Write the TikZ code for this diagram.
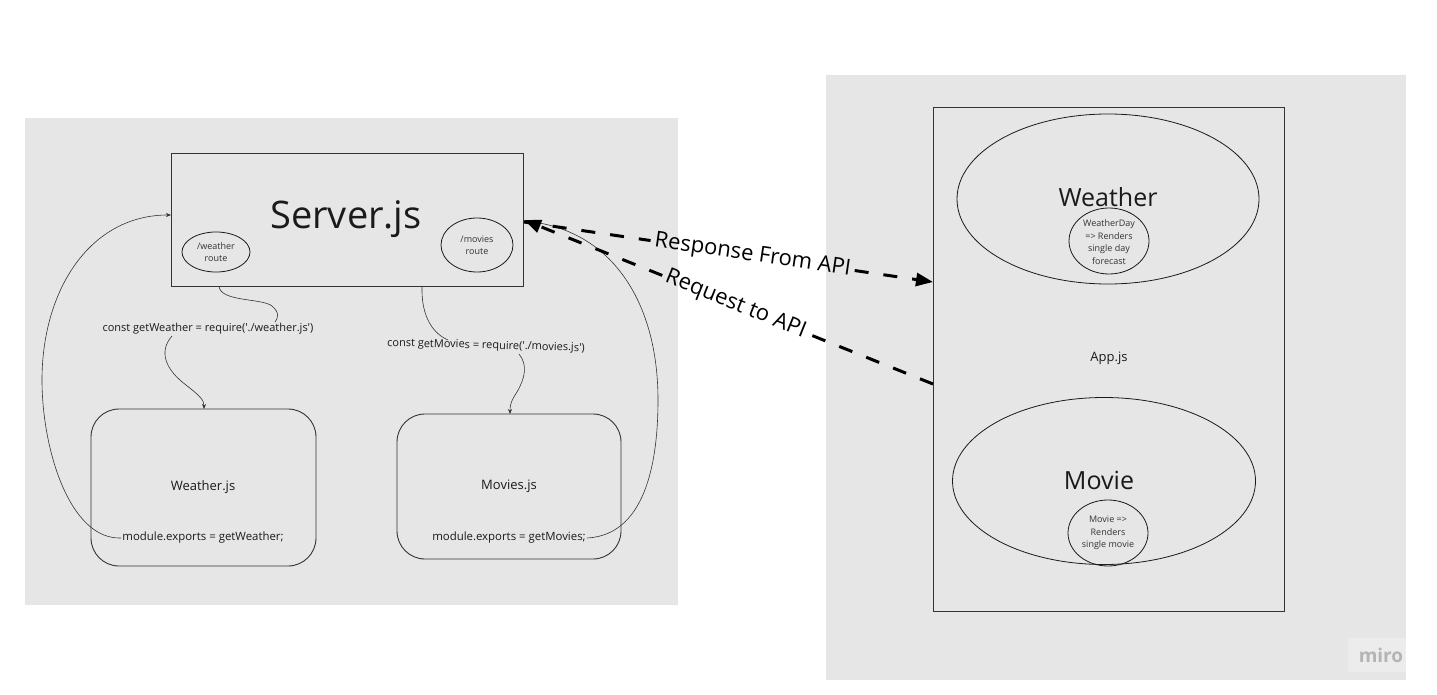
\documentclass[tikz,border=0pt]{standalone}
\usepackage{fontspec}
\setmainfont{Open Sans}
\usetikzlibrary{shapes.geometric,arrows.meta}
\definecolor{panel}{HTML}{E6E6E6}
\definecolor{badge}{HTML}{ECECEC}
\definecolor{ink}{HTML}{1A1A1A}
\definecolor{edge}{HTML}{333333}
\definecolor{mirogray}{HTML}{B4B4B8}
\begin{document}
\begin{tikzpicture}[x=1pt,y=-1pt,
  box/.style={draw=edge,line width=0.9pt,inner sep=0pt},
  rbox/.style={draw=edge,line width=0.9pt,rounded corners=28pt,inner sep=0pt},
  ell/.style={ellipse,draw=ink,line width=0.8pt,inner sep=0pt},
  tiny/.style={text=edge,font=\fontsize{9}{12.5}\selectfont,align=center,inner sep=0pt},
  code/.style={text=ink,font=\fontsize{11}{13}\selectfont,inner sep=1pt},
  conn/.style={draw=edge,line width=0.6pt},
  tip/.style={-{Stealth[length=5pt,width=4pt]}},
  dashline/.style={draw=black,line width=3pt,dash pattern=on 14pt off 15pt},
  lbl/.style={text=black,font=\fontsize{22}{24}\selectfont,inner sep=4pt}]
\useasboundingbox (0,0) rectangle (1437,695);
\fill[white] (0,0) rectangle (1437,695);
\fill[panel] (25,118) rectangle (678,605);
\fill[panel] (826,75) rectangle (1406,680);
\node[fill=badge,minimum width=58pt,minimum height=34pt,inner sep=0pt] (miro) at (1377,655) {};
\node[text=mirogray,font=\fontsize{19}{21}\selectfont\bfseries,inner sep=0pt] (mirotxt) at (1381,655) {miro};

% server
\node[box,minimum width=352pt,minimum height=133pt] (server) at (347,219.5) {};
\node[anchor=base,text=ink,font=\fontsize{38}{40}\selectfont,inner sep=0pt] (servertxt) at (346,229) {Server.js};
\node[ell,minimum width=68pt,minimum height=40pt] (wroute) at (216,252) {};
\node[tiny] (wroutetxt) at (216,252) {/weather\\route};
\node[ell,minimum width=72pt,minimum height=54pt] (mroute) at (477,245) {};
\node[tiny] (mroutetxt) at (477,245) {/movies\\route};

% modules
\node[rbox,minimum width=225pt,minimum height=157pt] (wjs) at (203.5,487.5) {};
\node[text=ink,font=\fontsize{13}{15}\selectfont,inner sep=0pt] (wjstxt) at (203,487) {Weather.js};
\node[code,font=\fontsize{11.4}{13}\selectfont] (wexp) at (203,538) {module.exports = getWeather;};
\node[rbox,minimum width=224pt,minimum height=145pt] (mjs) at (509,486.5) {};
\node[text=ink,font=\fontsize{13}{15}\selectfont,inner sep=0pt] (mjstxt) at (509,486) {Movies.js};
\node[code,font=\fontsize{11.4}{13}\selectfont] (mexp) at (509,538) {module.exports = getMovies;};

\node[code] (wreq) at (208,329) {const getWeather = require(\textquotesingle./weather.js\textquotesingle)};
\node[code,rotate=-1.5] (mreq) at (486,346) {const getMovies = require(\textquotesingle./movies.js\textquotesingle)};

\coordinate (sb1) at (219,286);
\coordinate (wreqtop) at (275,322);
\coordinate (wreqbot) at (172,336);
\coordinate (wjstop) at (204,409);
\coordinate (sb2) at (422,286);
\coordinate (mreqtop) at (448,340);
\coordinate (mreqbot) at (519,354);
\coordinate (mjstop) at (510,414);
\coordinate (sl) at (171,215);
\coordinate (sr) at (524,221);

\draw[conn] (sb1) .. controls (220,302) and (262,298) .. (272,306) .. controls (280,313) and (278,318) .. (wreqtop);
\draw[conn,tip] (wreqbot) .. controls (158,352) and (166,370) .. (186,385) .. controls (200,396) and (204,400) .. (wjstop);
\draw[conn] (sb2) .. controls (421,318) and (434,334) .. (mreqtop);
\draw[conn,tip] (mreqbot) .. controls (528,365) and (525,378) .. (517,392) .. controls (511,401) and (510,405) .. (mjstop);
\draw[conn,tip] (wexp.west) .. controls (70,540) and (42,450) .. (42,380) .. controls (42,290) and (90,215) .. (sl);
\draw[conn] (mexp.east) .. controls (650,535) and (658,450) .. (658,400) .. controls (658,300) and (610,228) .. (sr);

% app
\node[box,minimum width=351pt,minimum height=504pt] (app) at (1108.5,359) {};
\node[text=ink,font=\fontsize{13}{15}\selectfont,inner sep=0pt] (apptxt) at (1109,358) {App.js};
\node[ell,minimum width=302pt,minimum height=170pt] (weather) at (1108,199) {};
\node[text=ink,font=\fontsize{25}{27}\selectfont,inner sep=0pt] (weathertxt) at (1108,197) {Weather};
\node[ell,minimum width=80pt,minimum height=66pt] (wday) at (1109,241) {};
\node[tiny] (wdaytxt) at (1109,242) {WeatherDay\\=> Renders\\single day\\forecast};
\node[ell,minimum width=303pt,minimum height=167pt] (movie) at (1104,481) {};
\node[text=ink,font=\fontsize{25}{27}\selectfont,inner sep=0pt] (movietxt) at (1099,480) {Movie};
\node[ell,minimum width=80pt,minimum height=66pt] (msingle) at (1108,533) {};
\node[tiny] (msingletxt) at (1108,533) {Movie =>\\Renders\\single movie};

% API arrows
\coordinate (srv1) at (524,222);
\coordinate (appa) at (933,282);
\coordinate (srv2) at (524,220);
\coordinate (appb) at (933,384);
\path (srv1) -- (appa) node[pos=0.559,sloped,lbl] (resp) {Response From API};
\draw[dashline] (srv1) -- (resp);
\draw[dashline,-{Triangle[length=17pt,width=13pt]}] (resp) -- (appa);
\path (srv2) -- (appb) node[pos=0.517,sloped,lbl] (req) {Request to API};
\draw[dashline] (appb) -- (req);
\draw[dashline,-{Triangle[length=17pt,width=13pt]}] (req) -- (srv2);
\end{tikzpicture}
\end{document}
